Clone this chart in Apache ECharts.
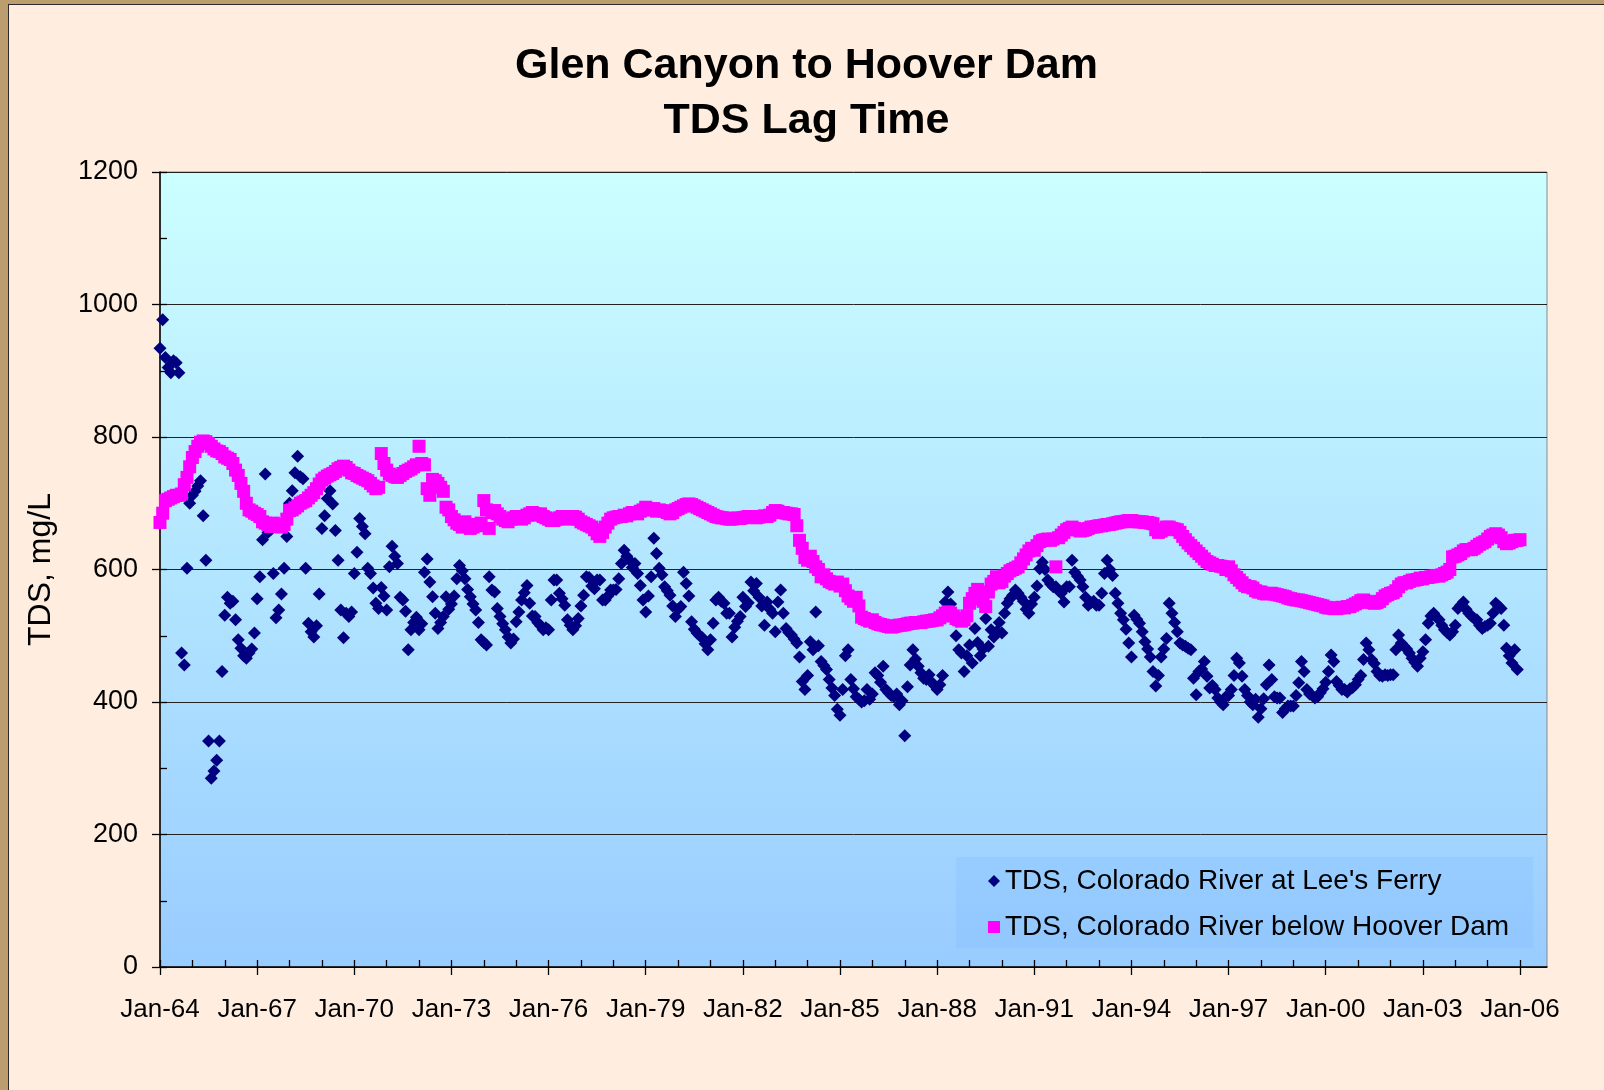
<!DOCTYPE html>
<html>
<head>
<meta charset="utf-8">
<title>Glen Canyon to Hoover Dam TDS Lag Time</title>
<script src="https://cdn.jsdelivr.net/npm/echarts@6/dist/echarts.min.js"></script>
<style>
  html, body { margin: 0; padding: 0; background: #BC9D6D; }
  #frame {
    position: absolute; left: 8px; top: 4px; width: 1596px; height: 1086px;
    box-sizing: border-box; background: #FFEEDF;
    border-left: 1px solid #2a2a2a; border-top: 1px solid #2a2a2a;
  }
  #main { width: 100%; height: 100%; }
</style>
</head>
<body>
<div id="frame"><div id="main"></div></div>
<script>
// monthly TDS (mg/L), one row per year, starting Jan-64
const leesFerryTds = [
  934, 977, 920, 905, 897, 915, 912, 897, 474, 456, 602, 700, // 1964
  712, 718, 726, 734, 681, 614, 341, 285, 296, 312, 341, 446, // 1965
  531, 558, 549, 552, 524, 494, 481, 470, 466, 474, 480, 504, // 1966
  556, 589, 645, 744, 656, 660, 594, 527, 539, 563, 602, 650, // 1967
  700, 719, 746, 771, 740, 737, 602, 519, 506, 498, 515, 563, // 1968
  662, 681, 707, 719, 699, 659, 614, 539, 497, 534, 529, 536, // 1969
  594, 626, 677, 665, 654, 602, 594, 572, 549, 541, 573, 560, // 1970
  539, 604, 635, 620, 609, 558, 554, 537, 479, 509, 520, 528, // 1971
  509, 518, 596, 616, 581, 559, 534, 511, 520, 529, 559, 540, // 1972
  548, 560, 586, 606, 598, 586, 570, 559, 548, 539, 520, 494, // 1973
  490, 486, 589, 569, 566, 541, 529, 518, 509, 498, 489, 495, // 1974
  521, 536, 554, 565, 576, 549, 530, 529, 520, 515, 509, 512, // 1975
  509, 554, 584, 584, 564, 556, 546, 524, 516, 509, 515, 526, // 1976
  545, 561, 589, 588, 575, 571, 584, 584, 554, 554, 560, 569, // 1977
  569, 570, 586, 609, 629, 620, 614, 603, 609, 594, 576, 554, // 1978
  536, 560, 589, 647, 624, 602, 592, 574, 568, 561, 545, 529, // 1979
  540, 544, 596, 579, 560, 521, 510, 504, 500, 497, 488, 479, // 1980
  494, 519, 554, 558, 552, 549, 534, 534, 498, 513, 522, 529, // 1981
  558, 544, 550, 581, 568, 579, 558, 545, 516, 551, 540, 534, // 1982
  506, 551, 569, 534, 511, 505, 501, 495, 489, 468, 431, 419, // 1983
  440, 491, 479, 536, 485, 461, 455, 449, 434, 421, 410, 389, // 1984
  380, 419, 470, 479, 434, 420, 408, 404, 400, 402, 419, 404, // 1985
  412, 444, 440, 430, 454, 419, 414, 410, 408, 412, 396, 402, // 1986
  349, 423, 456, 479, 465, 454, 444, 436, 434, 441, 430, 425, // 1987
  419, 426, 440, 551, 566, 548, 530, 500, 479, 474, 446, 470, // 1988
  486, 459, 511, 490, 470, 480, 526, 484, 509, 498, 506, 520, // 1989
  504, 534, 549, 556, 561, 569, 564, 558, 552, 540, 534, 548, // 1990
  558, 575, 601, 611, 600, 584, 578, 574, 574, 568, 564, 551, // 1991
  574, 574, 614, 596, 590, 584, 574, 558, 546, 550, 552, 546, // 1992
  546, 564, 594, 614, 600, 591, 564, 549, 534, 524, 510, 489, // 1993
  468, 531, 525, 519, 506, 491, 480, 468, 446, 424, 440, 468, // 1994
  480, 496, 549, 534, 520, 506, 489, 486, 484, 481, 479, 436, // 1995
  411, 446, 450, 461, 439, 421, 425, 419, 406, 400, 396, 408, // 1996
  410, 419, 440, 466, 459, 439, 419, 410, 400, 396, 404, 377, // 1997
  390, 405, 426, 456, 434, 408, 406, 406, 384, 390, 394, 394, // 1998
  394, 410, 429, 461, 446, 419, 412, 410, 406, 408, 414, 420, // 1999
  430, 446, 471, 461, 431, 425, 419, 419, 415, 420, 422, 426, // 2000
  434, 440, 464, 489, 479, 464, 458, 446, 440, 439, 441, 440, // 2001
  441, 441, 479, 501, 489, 484, 480, 474, 466, 460, 454, 466, // 2002
  476, 494, 519, 530, 534, 528, 524, 516, 509, 505, 501, 506, // 2003
  516, 541, 546, 551, 540, 534, 530, 526, 524, 516, 511, 514, // 2004
  516, 519, 534, 549, 545, 541, 516, 481, 470, 459, 479, 449  // 2005
];

const hooverDamTds = [
  671, 685, 704, 706, 708, 710, 712, 712, 714, 728, 739, 755, // 1964
  769, 778, 786, 792, 794, 793, 790, 786, 782, 779, 778, 775, // 1965
  770, 768, 766, 760, 750, 742, 730, 718, 700, 690, 688, 685, // 1966
  683, 680, 672, 670, 668, 665, 670, 665, 668, 664, 668, 676, // 1967
  689, 690, 693, 696, 700, 702, 704, 708, 712, 716, 722, 729, // 1968
  735, 738, 741, 743, 745, 748, 752, 754, 756, 754, 750, 746, // 1969
  745, 742, 740, 738, 736, 734, 730, 726, 722, 724, 775, 760, // 1970
  750, 744, 742, 740, 739, 742, 745, 748, 750, 752, 755, 758, // 1971
  786, 760, 758, 722, 712, 736, 734, 730, 724, 718, 694, 690, // 1972
  680, 675, 670, 668, 664, 672, 666, 662, 664, 668, 666, 670, // 1973
  704, 690, 662, 686, 689, 684, 680, 676, 674, 672, 676, 678, // 1974
  680, 679, 676, 678, 682, 684, 686, 684, 682, 684, 680, 678, // 1975
  676, 674, 674, 676, 678, 680, 679, 676, 678, 680, 679, 676, // 1976
  672, 670, 668, 666, 664, 660, 654, 650, 656, 664, 670, 676, // 1977
  678, 679, 680, 680, 682, 681, 684, 686, 685, 684, 688, 690, // 1978
  694, 692, 690, 692, 688, 690, 689, 688, 686, 684, 686, 690, // 1979
  692, 694, 696, 698, 699, 698, 696, 694, 692, 690, 688, 686, // 1980
  684, 682, 680, 679, 678, 678, 677, 676, 676, 677, 678, 677, // 1981
  678, 679, 680, 680, 679, 678, 679, 680, 681, 680, 682, 686, // 1982
  689, 688, 686, 686, 685, 684, 684, 683, 666, 644, 632, 618, // 1983
  614, 620, 612, 604, 600, 589, 592, 586, 582, 580, 578, 581, // 1984
  575, 578, 568, 560, 556, 552, 558, 545, 528, 526, 524, 522, // 1985
  524, 520, 518, 517, 516, 515, 514, 513, 514, 515, 516, 516, // 1986
  517, 518, 519, 519, 520, 520, 520, 521, 522, 522, 523, 524, // 1987
  524, 527, 530, 534, 536, 534, 530, 526, 524, 522, 524, 530, // 1988
  549, 556, 564, 570, 560, 552, 544, 566, 578, 582, 589, 580, // 1989
  582, 590, 594, 598, 600, 602, 604, 610, 616, 622, 628, 632, // 1990
  629, 636, 642, 644, 645, 646, 644, 646, 604, 648, 652, 656, // 1991
  660, 662, 664, 662, 660, 658, 659, 660, 662, 664, 664, 665, // 1992
  666, 666, 667, 668, 668, 669, 670, 671, 672, 672, 673, 674, // 1993
  674, 673, 672, 672, 672, 671, 671, 670, 669, 660, 656, 658, // 1994
  660, 664, 664, 662, 661, 660, 656, 650, 645, 640, 636, 632, // 1995
  628, 624, 620, 616, 612, 610, 608, 606, 606, 605, 604, 600, // 1996
  604, 598, 592, 588, 584, 580, 576, 574, 574, 572, 568, 566, // 1997
  566, 564, 563, 564, 564, 563, 562, 561, 560, 559, 557, 556, // 1998
  555, 554, 554, 553, 552, 551, 550, 549, 548, 547, 546, 545, // 1999
  543, 542, 542, 541, 541, 542, 543, 542, 544, 544, 546, 548, // 2000
  550, 553, 554, 552, 551, 550, 549, 550, 552, 556, 560, 562, // 2001
  564, 565, 568, 574, 578, 580, 580, 582, 584, 584, 585, 587, // 2002
  586, 588, 588, 589, 590, 591, 590, 592, 594, 596, 600, 619, // 2003
  620, 622, 624, 628, 630, 630, 630, 632, 635, 638, 640, 642, // 2004
  646, 650, 652, 654, 652, 648, 642, 639, 640, 642, 644, 644, // 2005
  645                                                          // 2006
];

const xTickLabels = ['Jan-64', 'Jan-67', 'Jan-70', 'Jan-73', 'Jan-76', 'Jan-79', 'Jan-82',
  'Jan-85', 'Jan-88', 'Jan-91', 'Jan-94', 'Jan-97', 'Jan-00', 'Jan-03', 'Jan-06'];

const LEES = "TDS, Colorado River at Lee's Ferry";
const HOOVER = 'TDS, Colorado River below Hoover Dam';
const FONT = '"Liberation Sans", Arial, Helvetica, sans-serif';

// x is months since Jan-64
const majorTicks = xTickLabels.map((l, i) => i * 36);
const yearTicks = [];
for (let m = 0; m <= 504; m += 12) yearTicks.push(m);

const chart = echarts.init(document.getElementById('main'));

chart.setOption({
  animation: false,
  title: {
    text: 'Glen Canyon to Hoover Dam\nTDS Lag Time',
    left: 'center',
    top: 34,
    padding: 0,
    textStyle: { fontSize: 43, fontWeight: 'bold', fontFamily: FONT, color: '#000', lineHeight: 55 }
  },
  grid: {
    left: 151, top: 167, right: 57, bottom: 123,
    show: true,
    borderColor: '#8a8a8a',
    borderWidth: 1,
    backgroundColor: {
      type: 'linear', x: 0, y: 0, x2: 0, y2: 1,
      colorStops: [{ offset: 0, color: '#CCFFFF' }, { offset: 1, color: '#99CCFF' }]
    }
  },
  legend: {
    orient: 'vertical',
    left: 947,
    top: 852,
    padding: [9, 24, 6, 32],
    backgroundColor: 'rgba(120,180,255,0.22)',
    itemWidth: 12,
    itemHeight: 12,
    itemGap: 16,
    textStyle: { fontSize: 28, fontFamily: FONT, color: '#000', lineHeight: 30 },
    data: [{ name: LEES, icon: 'diamond' }, { name: HOOVER, icon: 'rect' }]
  },
  xAxis: [{
    type: 'value',
    position: 'bottom',
    min: 0,
    max: 514,
    axisLine: { show: true, onZero: false, lineStyle: { color: '#000', width: 1.5 } },
    axisTick: { show: true, customValues: majorTicks, length: 8, lineStyle: { color: '#000', width: 1.3 } },
    axisLabel: {
      customValues: majorTicks,
      formatter: v => xTickLabels[Math.round(v / 36)],
      fontSize: 26, fontFamily: FONT, color: '#000', margin: 30
    },
    splitLine: { show: false }
  }, {
    type: 'value',
    position: 'bottom',
    min: 0,
    max: 514,
    axisLine: { show: false },
    axisTick: { show: true, inside: true, customValues: yearTicks, length: 7, lineStyle: { color: '#000', width: 1.3 } },
    axisLabel: { show: false },
    splitLine: { show: false }
  }],
  yAxis: [{
    type: 'value',
    position: 'left',
    min: 0,
    max: 1200,
    interval: 200,
    name: 'TDS, mg/L',
    nameLocation: 'middle',
    nameRotate: 90,
    nameGap: 103,
    nameTextStyle: { fontSize: 32, fontFamily: FONT, color: '#000' },
    axisLine: { show: true, lineStyle: { color: '#000', width: 1.5 } },
    axisTick: { show: true, length: 8, lineStyle: { color: '#000', width: 1.3 } },
    axisLabel: { formatter: v => String(v), fontSize: 27, fontFamily: FONT, color: '#000', margin: 22 },
    splitLine: { show: true, lineStyle: { color: '#222', width: 1 } }
  }, {
    type: 'value',
    position: 'left',
    min: 0,
    max: 1200,
    interval: 100,
    axisLine: { show: false },
    axisTick: { show: true, inside: true, length: 7, lineStyle: { color: '#000', width: 1.3 } },
    axisLabel: { show: false },
    splitLine: { show: false }
  }],
  series: [{
    name: LEES,
    type: 'scatter',
    symbol: 'diamond',
    symbolSize: 13,
    itemStyle: { color: '#000080', opacity: 1 },
    data: leesFerryTds.map((v, i) => [i, v]),
    z: 3
  }, {
    name: HOOVER,
    type: 'scatter',
    symbol: 'rect',
    symbolSize: 13,
    itemStyle: { color: '#FF00FF', opacity: 1 },
    data: hooverDamTds.map((v, i) => [i, v]),
    z: 4
  }]
});
</script>
</body>
</html>
